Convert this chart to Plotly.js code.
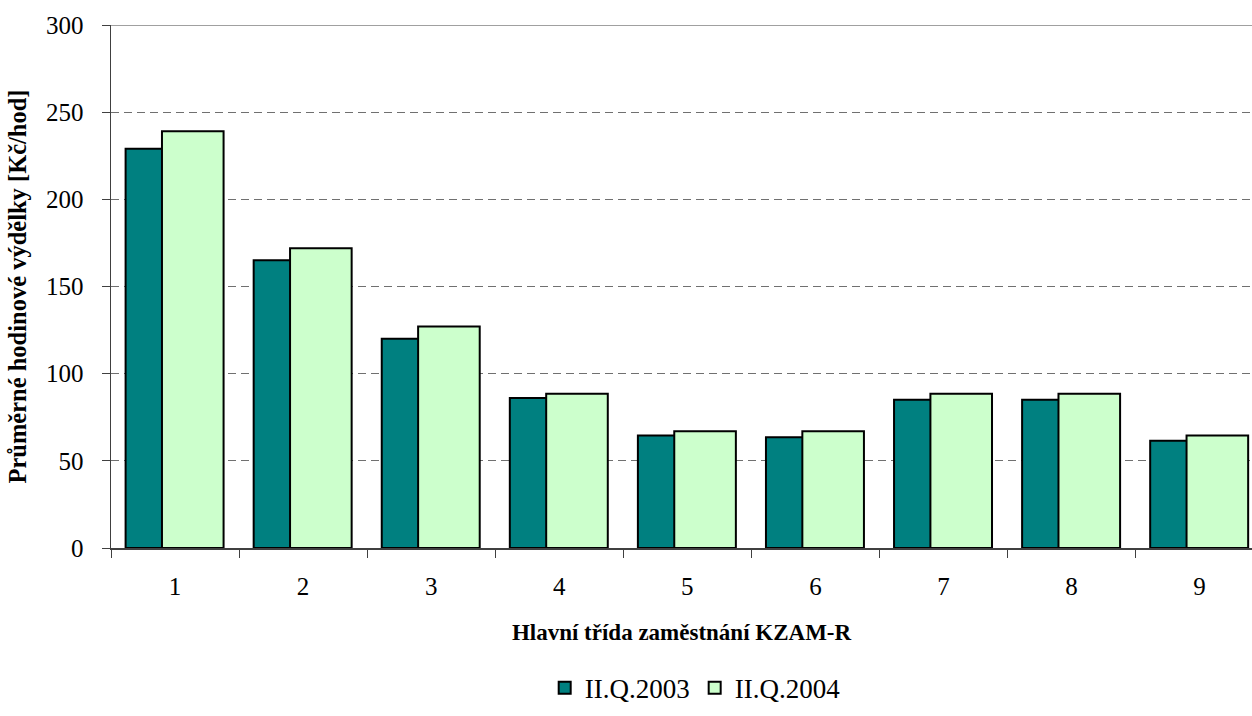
<!DOCTYPE html>
<html>
<head>
<meta charset="utf-8">
<script src="https://cdn.plot.ly/plotly-3.0.1.min.js"></script>
<style>html,body{margin:0;padding:0;background:#fff;}#chart{width:1252px;height:716px;}</style>
</head>
<body>
<div id="chart"></div>
<script>
const categories = ["1","2","3","4","5","6","7","8","9"];
const series2003 = [229, 165, 120, 86, 64.5, 63.5, 85, 85, 61.5];
const series2004 = [239, 172, 127, 88.5, 67, 67, 88.5, 88.5, 64.5];
const seriesNames = ["II.Q.2003", "II.Q.2004"];
const yTicks = [0, 50, 100, 150, 200, 250, 300];

const font = "Liberation Serif";
const barW = 0.481;

const traces = [
  {type:'bar', x:categories, y:series2003, name:seriesNames[0], width:barW, offset:-0.386,
   marker:{color:'#008080', line:{color:'#000', width:2}}},
  {type:'bar', x:categories, y:series2004, name:seriesNames[1], width:barW, offset:-0.102,
   marker:{color:'#CCFFCC', line:{color:'#000', width:2}}}
];

const layout = {
  width:1252, height:716,
  margin:{l:111, r:0, t:25, b:168},
  paper_bgcolor:'#fff', plot_bgcolor:'#fff',
  barmode:'overlay',
  font:{family:font, size:25, color:'#000'},
  showlegend:true,
  legend:{orientation:'h', x:0.512, xanchor:'center', y:-0.268, yanchor:'middle',
    font:{family:font, size:27, color:'#000'}, itemwidth:30, tracegroupgap:0},
  xaxis:{type:'category', range:[-0.5, 8.409], tickson:'boundaries', ticks:'outside', ticklen:8,
    tickcolor:'#404040', showline:true, linecolor:'#404040', linewidth:1.5, showgrid:false,
    tickfont:{family:font, size:25}, zeroline:false, ticklabelstandoff:15,
    title:{text:'<b>Hlavní třída zaměstnání KZAM-R</b>', font:{family:font, size:23}, standoff:25}},
  yaxis:{range:[0,300], tickvals:yTicks, ticks:'outside', ticklen:8, tickcolor:'#404040',
    showline:true, linecolor:'#404040', linewidth:1.5, showgrid:true, gridcolor:'#707070',
    griddash:'8px,5px', gridwidth:1.2, zeroline:false, tickfont:{family:font, size:25},
    ticklabelstandoff:13,
    title:{text:'<b>Průměrné hodinové výdělky [Kč/hod]</b>', font:{family:font, size:24.5}, standoff:12}},
  shapes:[{type:'line', xref:'paper', yref:'y', x0:0, x1:1, y0:300, y1:300,
    line:{color:'#808080', width:1.5}}]
};

Plotly.newPlot('chart', traces, layout, {staticPlot:true, displayModeBar:false});
</script>
</body>
</html>
